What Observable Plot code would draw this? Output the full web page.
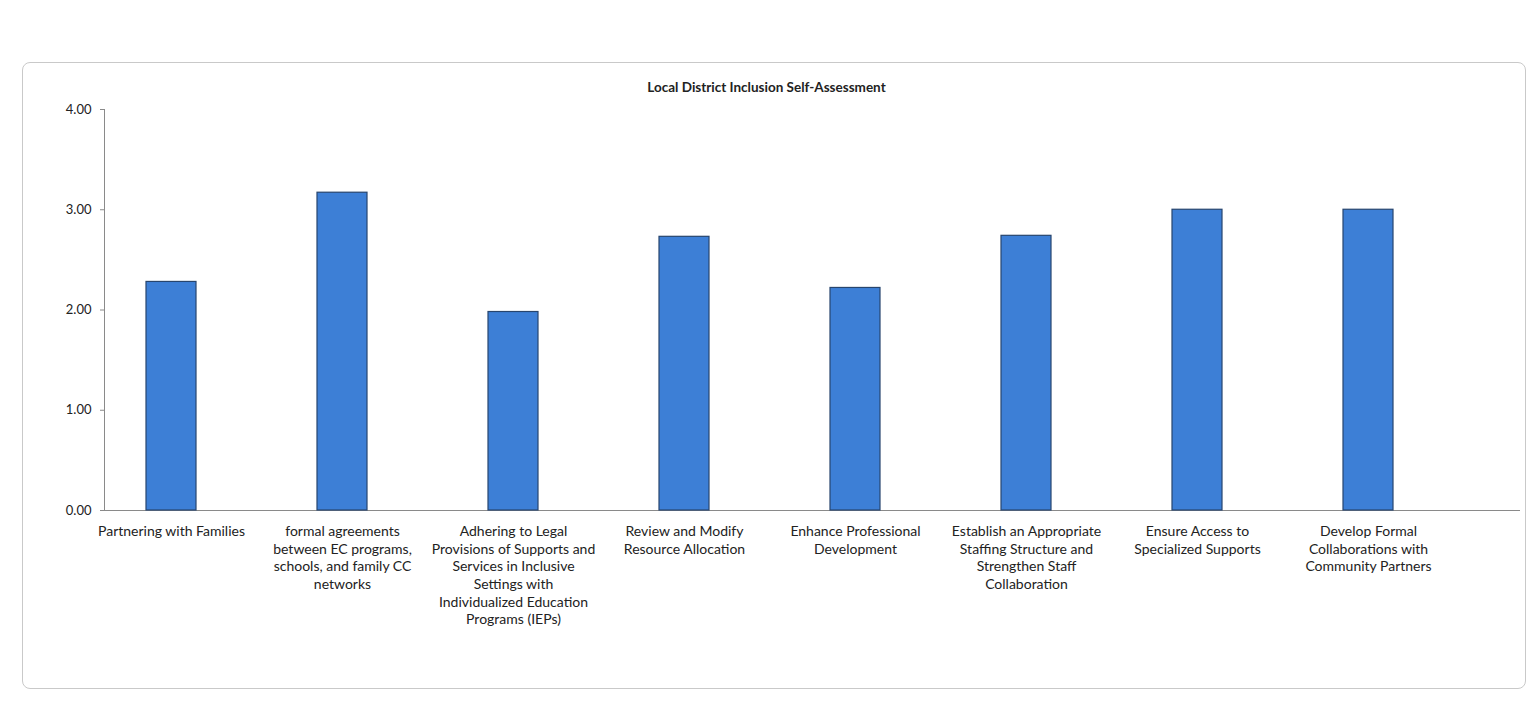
<!DOCTYPE html>
<html>
<head>
<meta charset="utf-8">
<script src="https://cdn.jsdelivr.net/npm/d3@7"></script>
<script src="https://cdn.jsdelivr.net/npm/@observablehq/plot@0.6"></script>
<style>
  html, body { margin: 0; padding: 0; background: #fff; }
  body { width: 1533px; height: 723px; position: relative; overflow: hidden; font-family: Lato, "Open Sans", sans-serif; }
  #frame { position: absolute; left: 22px; top: 62px; width: 1504px; height: 627px; border: 1.5px solid #c9c9c9; border-radius: 8px; box-sizing: border-box; }
  #title { position: absolute; left: 0; width: 1533px; top: 79px; text-align: center; font-size: 13.5px; font-weight: 700; color: #222; }
  #chart { position: absolute; left: 0; top: 0; }
</style>
</head>
<body>
<div id="frame"></div>
<div id="title">Local District Inclusion Self-Assessment</div>
<div id="chart"></div>
<script>
const categories = [
  "Partnering with Families",
  "formal agreements between EC programs, schools, and family CC networks",
  "Adhering to Legal Provisions of Supports and Services in Inclusive Settings with Individualized Education Programs (IEPs)",
  "Review and Modify Resource Allocation",
  "Enhance Professional Development",
  "Establish an Appropriate Staffing Structure and Strengthen Staff Collaboration",
  "Ensure Access to Specialized Supports",
  "Develop Formal Collaborations with Community Partners"
];
const values = [2.28, 3.17, 1.98, 2.73, 2.22, 2.74, 3.00, 3.00];
const tickLabels = [
  "Partnering with Families",
  "formal agreements\nbetween EC programs,\nschools, and family CC\nnetworks",
  "Adhering to Legal\nProvisions of Supports and\nServices in Inclusive\nSettings with\nIndividualized Education\nPrograms (IEPs)",
  "Review and Modify\nResource Allocation",
  "Enhance Professional\nDevelopment",
  "Establish an Appropriate\nStaffing Structure and\nStrengthen Staff\nCollaboration",
  "Ensure Access to\nSpecialized Supports",
  "Develop Formal\nCollaborations with\nCommunity Partners"
];
const yTicks = [0, 1, 2, 3, 4];

const data = categories.map((c, i) => ({category: c, value: values[i]}));
const labelOf = new Map(categories.map((c, i) => [c, tickLabels[i]]));

const chart = Plot.plot({
  width: 1533,
  height: 723,
  marginLeft: 104,
  marginRight: 13,
  marginTop: 109,
  marginBottom: 213,
  style: {fontFamily: "Lato, 'Open Sans', sans-serif", color: "#222", background: "transparent"},
  x: {domain: categories, range: [104, 1434], paddingInner: 0.708, paddingOuter: 0.233, align: 0.5},
  y: {domain: [0, 4]},
  marks: [
    Plot.frame({anchor: "left", stroke: "#8a8a8a"}),
    Plot.ruleY([0], {stroke: "#8a8a8a", strokeWidth: 1.2}),
    Plot.barY(data, {x: "category", y: "value", fill: "#3d7fd6", stroke: "#27456e", strokeWidth: 1.2}),
    Plot.axisY({ticks: yTicks, tickFormat: d3.format(".2f"), tickSize: 4, tickPadding: 9, fontSize: 13, stroke: "#8a8a8a", label: null}),
    Plot.axisX({tickSize: 0, tickPadding: 13, tickFormat: d => labelOf.get(d), fontSize: 14, lineHeight: 1.26, label: null})
  ]
});
document.getElementById("chart").appendChild(chart);
</script>
</body>
</html>
